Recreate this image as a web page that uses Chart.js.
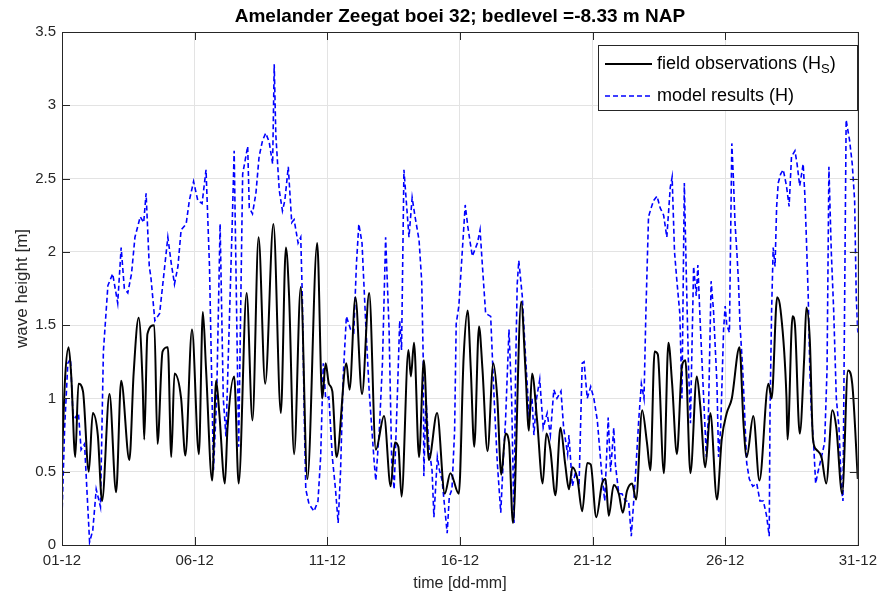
<!DOCTYPE html>
<html>
<head>
<meta charset="utf-8">
<script src="https://cdn.jsdelivr.net/npm/chart.js@4.4.1/dist/chart.umd.min.js"></script>
<style>
  html, body { margin: 0; padding: 0; background: #fff; }
  canvas { display: block; }
</style>
</head>
<body>
<canvas id="waves" width="884" height="595"></canvas>
<script>
// time in days since 01-12, wave height in m
const obsDays = [
  0.0, 0.12, 0.25, 0.35, 0.5, 0.62, 0.79, 1.01, 1.16, 1.35, 1.51, 1.79, 2.04, 2.23, 2.54, 2.7, 2.89, 3.04, 3.1, 3.22,
  3.48, 3.6, 3.79, 3.99, 4.12, 4.24, 4.49, 4.65, 4.9, 5.16, 5.31, 5.43, 5.66, 5.81, 5.93, 6.14, 6.24, 6.49, 6.66, 6.96,
  7.18, 7.41, 7.66, 7.97, 8.25, 8.44, 8.56, 8.75, 9.0, 9.25, 9.62, 9.81, 9.94, 10.06, 10.19, 10.35, 10.72, 10.84, 11.06, 11.31,
  11.58, 11.83, 12.14, 12.39, 12.55, 12.68, 12.8, 13.06, 13.15, 13.27, 13.46, 13.64, 13.83, 14.14, 14.43, 14.64, 14.96, 15.14, 15.29, 15.41,
  15.54, 15.72, 15.85, 16.04, 16.26, 16.41, 16.56, 16.72, 16.85, 17.0, 17.31, 17.47, 17.6, 17.72, 17.91, 18.12, 18.26, 18.41, 18.6, 18.79,
  18.97, 19.11, 19.24, 19.43, 19.61, 19.8, 19.93, 20.14, 20.36, 20.49, 20.61, 20.8, 20.99, 21.14, 21.3, 21.49, 21.64, 21.87, 22.05, 22.18,
  22.34, 22.46, 22.69, 22.86, 23.0, 23.18, 23.37, 23.5, 23.69, 23.93, 24.06, 24.25, 24.44, 24.69, 24.87, 25.06, 25.25, 25.54, 25.69, 25.81,
  26.06, 26.29, 26.63, 26.75, 26.96, 27.09, 27.31, 27.35, 27.54, 27.63, 27.81, 27.98, 28.06, 28.19, 28.31, 28.44, 28.63, 28.81, 29.04, 29.19,
  29.41, 29.63, 29.79, 30.0
];
const obsHeight = [
  0.6, 1.15, 1.35, 1.15, 0.6, 1.1, 1.05, 0.5, 0.9, 0.75, 0.3, 1.03, 0.36, 1.12, 0.58, 1.17, 1.55, 1.1, 0.72, 1.44,
  1.5, 0.69, 1.32, 1.35, 0.6, 1.17, 1.0, 0.61, 1.47, 0.62, 1.59, 1.2, 0.44, 1.12, 0.9, 0.42, 0.8, 1.15, 0.42, 1.72,
  0.85, 2.1, 1.1, 2.19, 0.9, 2.03, 1.7, 0.62, 1.76, 0.45, 2.06, 1.0, 1.24, 1.1, 1.05, 0.6, 1.24, 1.06, 1.69, 1.03,
  1.72, 0.65, 0.88, 0.4, 0.7, 0.67, 0.33, 1.33, 1.15, 1.38, 0.6, 1.26, 0.58, 0.9, 0.35, 0.49, 0.35, 1.28, 1.6, 1.2,
  0.67, 1.49, 1.2, 0.64, 1.24, 1.0, 0.48, 0.76, 0.7, 0.15, 1.66, 1.2, 0.78, 1.17, 0.85, 0.42, 0.76, 0.65, 0.34, 0.8,
  0.55, 0.38, 0.53, 0.45, 0.23, 0.56, 0.55, 0.19, 0.42, 0.45, 0.2, 0.41, 0.35, 0.22, 0.37, 0.42, 0.31, 0.92, 0.7, 0.51,
  1.32, 1.3, 0.49, 1.38, 1.1, 0.62, 1.22, 1.26, 0.49, 1.15, 0.95, 0.53, 0.9, 0.31, 0.72, 0.9, 1.0, 1.35, 0.83, 0.6,
  0.88, 0.44, 1.1, 1.0, 1.69, 1.6, 1.01, 0.72, 1.56, 1.5, 0.76, 1.28, 1.62, 1.4, 0.72, 0.65, 0.6, 0.42, 0.92, 0.8,
  0.35, 1.19, 1.1, 0.45
];

const modelDays = [
  0.0, 0.1, 0.22, 0.32, 0.41, 0.5, 0.62, 0.72, 0.85, 1.04, 1.16, 1.29, 1.45, 1.56, 1.73, 1.91, 2.1, 2.23, 2.35, 2.48,
  2.62, 2.75, 2.95, 3.08, 3.17, 3.29, 3.35, 3.5, 3.68, 3.8, 3.99, 4.12, 4.24, 4.37, 4.49, 4.68, 4.8, 4.96, 5.12, 5.28,
  5.43, 5.56, 5.71, 5.83, 5.96, 6.08, 6.18, 6.41, 6.49, 6.66, 6.81, 7.0, 7.06, 7.18, 7.31, 7.43, 7.56, 7.68, 7.81, 7.94,
  8.0, 8.06, 8.19, 8.31, 8.4, 8.53, 8.66, 8.75, 8.9, 9.0, 9.06, 9.13, 9.19, 9.31, 9.5, 9.65, 9.75, 9.85, 9.94, 10.06,
  10.19, 10.31, 10.41, 10.5, 10.6, 10.72, 10.88, 11.0, 11.1, 11.19, 11.31, 11.46, 11.58, 11.77, 11.83, 11.96, 12.08, 12.2, 12.33, 12.43,
  12.52, 12.64, 12.73, 12.8, 12.89, 13.08, 13.2, 13.3, 13.46, 13.56, 13.62, 13.64, 13.72, 13.83, 13.95, 14.02, 14.15, 14.23, 14.33, 14.52,
  14.6, 14.7, 14.8, 14.86, 14.96, 15.06, 15.2, 15.3, 15.39, 15.47, 15.66, 15.76, 15.85, 15.97, 16.16, 16.29, 16.41, 16.54, 16.64, 16.72,
  16.85, 16.95, 17.04, 17.1, 17.16, 17.22, 17.35, 17.47, 17.6, 17.72, 17.79, 17.89, 18.01, 18.14, 18.29, 18.41, 18.54, 18.66, 18.81, 18.91,
  19.06, 19.11, 19.24, 19.36, 19.49, 19.61, 19.68, 19.8, 19.93, 20.05, 20.18, 20.34, 20.46, 20.59, 20.68, 20.8, 20.86, 20.99, 21.11, 21.24,
  21.36, 21.46, 21.61, 21.74, 21.84, 21.94, 22.01, 22.11, 22.21, 22.3, 22.43, 22.55, 22.68, 22.8, 22.93, 23.0, 23.09, 23.18, 23.29, 23.37,
  23.46, 23.54, 23.62, 23.69, 23.81, 23.91, 23.97, 24.06, 24.19, 24.29, 24.37, 24.47, 24.56, 24.69, 24.75, 24.83, 24.94, 25.0, 25.06, 25.16,
  25.25, 25.31, 25.37, 25.44, 25.5, 25.56, 25.66, 25.71, 25.81, 25.91, 26.04, 26.19, 26.31, 26.44, 26.56, 26.66, 26.69, 26.75, 26.81, 26.88,
  26.94, 27.0, 27.09, 27.19, 27.31, 27.41, 27.5, 27.63, 27.71, 27.81, 27.94, 28.0, 28.06, 28.13, 28.19, 28.25, 28.34, 28.41, 28.5, 28.63,
  28.75, 28.84, 28.91, 29.0, 29.09, 29.19, 29.29, 29.38, 29.44, 29.56, 29.69, 29.79, 29.88, 29.94, 30.0
];
const modelHeight = [
  0.2, 0.8, 1.24, 1.27, 0.9, 0.87, 0.9, 0.65, 0.69, 0.02, 0.1, 0.38, 0.26, 1.32, 1.77, 1.85, 1.65, 2.03, 1.75, 1.72,
  1.85, 2.1, 2.24, 2.2, 2.4, 1.9, 1.83, 1.53, 1.58, 1.78, 2.1, 1.92, 1.78, 1.9, 2.15, 2.19, 2.35, 2.48, 2.35, 2.33,
  2.56, 1.9, 0.51, 1.0, 2.19, 1.0, 0.74, 2.15, 2.69, 0.67, 2.53, 2.72, 2.3, 2.26, 2.4, 2.65, 2.76, 2.81, 2.75, 2.6,
  3.28, 2.8, 2.42, 2.28, 2.35, 2.58, 2.2, 2.22, 2.06, 2.1, 1.69, 0.9, 0.38, 0.28, 0.23, 0.3, 0.6, 1.24, 1.0, 1.01,
  0.6, 0.38, 0.15, 0.5, 1.15, 1.56, 1.47, 1.45, 1.92, 2.19, 2.06, 1.47, 1.05, 0.56, 0.44, 0.78, 1.24, 2.1, 1.47, 0.56,
  0.38, 1.01, 1.53, 1.33, 2.56, 2.1, 2.37, 2.25, 2.08, 1.8, 1.24, 0.47, 1.0, 0.67, 0.51, 0.19, 0.6, 0.51, 0.44, 0.08,
  0.33, 0.38, 0.78, 1.51, 1.63, 1.92, 2.32, 2.17, 2.06, 1.97, 2.06, 2.15, 1.9, 1.58, 1.56, 1.0, 0.56, 0.22, 0.6, 0.85,
  1.47, 1.0, 0.15, 1.2, 1.78, 1.94, 1.7, 1.3, 0.9, 1.0, 0.75, 1.0, 1.13, 0.8, 0.9, 0.75, 1.06, 1.0, 1.05, 0.8,
  0.62, 0.75, 0.4, 0.5, 0.4, 1.24, 1.25, 1.0, 1.08, 1.0, 0.85, 0.5, 0.3, 0.87, 0.5, 0.8, 0.55, 0.35, 0.35, 0.3,
  0.3, 0.06, 0.45, 0.85, 1.1, 1.0, 1.58, 2.24, 2.3, 2.35, 2.38, 2.3, 2.25, 2.1, 2.44, 2.51, 2.0, 1.8, 1.58, 1.0,
  2.47, 1.8, 1.2, 0.83, 1.9, 1.7, 1.91, 1.51, 1.0, 0.6, 0.9, 1.8, 1.6, 1.1, 0.6, 0.8, 1.47, 1.63, 1.5, 1.45,
  2.74, 2.5, 2.2, 2.0, 1.8, 1.5, 1.2, 1.0, 0.56, 0.45, 0.4, 0.42, 0.3, 0.3, 0.2, 0.06, 0.9, 1.6, 2.03, 1.9,
  2.31, 2.47, 2.53, 2.56, 2.45, 2.31, 2.65, 2.69, 2.6, 2.45, 2.6, 2.4, 2.1, 1.7, 1.2, 0.9, 0.67, 0.42, 0.5, 0.6,
  0.7, 1.2, 2.58, 2.0, 1.6, 1.0, 0.8, 0.4, 0.3, 2.9, 2.76, 2.6, 2.35, 1.7, 1.45
];

const dayLabels = ["01-12", "06-12", "11-12", "16-12", "21-12", "26-12", "31-12"];
const seriesNames = ["field observations (H", "model results (H)"];
const chartTitle = "Amelander Zeegat boei 32; bedlevel =-8.33 m NAP";

const FONT = "'Liberation Sans', Arial, Helvetica, sans-serif";
const AXIS_COLOR = "#262626";

const toPoints = (xs, ys) => xs.map((x, i) => ({ x: x, y: ys[i] }));

// MATLAB-style box, inward ticks, title and legend
const matlabFrame = {
  id: "matlabFrame",
  afterDraw(chart) {
    const { ctx, chartArea: a, scales } = chart;
    const tickLen = 8;
    ctx.save();
    ctx.strokeStyle = AXIS_COLOR;
    ctx.lineWidth = 1;
    ctx.beginPath();
    scales.x.ticks.forEach((t) => {
      const px = Math.round(scales.x.getPixelForValue(t.value)) + 0.5;
      ctx.moveTo(px, a.bottom);
      ctx.lineTo(px, a.bottom - tickLen);
      ctx.moveTo(px, a.top);
      ctx.lineTo(px, a.top + tickLen);
    });
    scales.y.ticks.forEach((t) => {
      const py = Math.round(scales.y.getPixelForValue(t.value)) + 0.5;
      ctx.moveTo(a.left, py);
      ctx.lineTo(a.left + tickLen, py);
      ctx.moveTo(a.right, py);
      ctx.lineTo(a.right - tickLen, py);
    });
    ctx.stroke();
    ctx.strokeRect(Math.round(a.left) + 0.5, Math.round(a.top) + 0.5,
      Math.round(a.right - a.left), Math.round(a.bottom - a.top));

    // title
    ctx.fillStyle = "#000";
    ctx.font = "bold 19px " + FONT;
    ctx.textAlign = "center";
    ctx.textBaseline = "alphabetic";
    ctx.fillText(chartTitle, (a.left + a.right) / 2, 22);

    // legend
    const bx = 598, by = 45, bw = 259, bh = 65;
    ctx.fillStyle = "#fff";
    ctx.fillRect(bx, by, bw, bh);
    ctx.strokeStyle = AXIS_COLOR;
    ctx.strokeRect(bx + 0.5, by + 0.5, bw, bh);

    const rows = [by + 19, by + 51];
    const ds = chart.data.datasets;
    rows.forEach((ry, i) => {
      ctx.beginPath();
      ctx.strokeStyle = ds[i].borderColor;
      ctx.lineWidth = ds[i].borderWidth;
      ctx.setLineDash(ds[i].borderDash || []);
      ctx.moveTo(bx + 7, ry);
      ctx.lineTo(bx + 54, ry);
      ctx.stroke();
    });
    ctx.setLineDash([]);

    ctx.fillStyle = "#000";
    ctx.textAlign = "left";
    ctx.textBaseline = "middle";
    ctx.font = "18px " + FONT;
    const tx = bx + 59;
    ctx.fillText(seriesNames[0], tx, rows[0]);
    let w = ctx.measureText(seriesNames[0]).width;
    ctx.font = "13px " + FONT;
    ctx.fillText("S", tx + w, rows[0] + 5);
    w += ctx.measureText("S").width;
    ctx.font = "18px " + FONT;
    ctx.fillText(")", tx + w, rows[0]);
    ctx.fillText(seriesNames[1], tx, rows[1]);
    ctx.restore();
  },
};

new Chart(document.getElementById("waves"), {
  type: "line",
  data: {
    datasets: [
      {
        label: "field observations (HS)",
        data: toPoints(obsDays, obsHeight),
        borderColor: "#000000",
        borderWidth: 2,
        pointRadius: 0,
        cubicInterpolationMode: "monotone",
        order: 0,
      },
      {
        label: "model results (H)",
        data: toPoints(modelDays, modelHeight),
        borderColor: "#0000ff",
        borderWidth: 1.6,
        borderDash: [5, 3],
        pointRadius: 0,
        tension: 0,
        order: 1,
      },
    ],
  },
  options: {
    responsive: false,
    animation: false,
    layout: { padding: { top: 32, right: 22, left: 0, bottom: 0 } },
    plugins: {
      legend: { display: false },
      tooltip: { enabled: false },
    },
    scales: {
      x: {
        type: "linear",
        min: 0,
        max: 30,
        afterFit: (s) => { s.height = 50; },
        border: { display: false },
        grid: { color: "#e3e3e3", drawTicks: false },
        ticks: {
          stepSize: 5,
          autoSkip: false,
          maxRotation: 0,
          padding: 7,
          color: AXIS_COLOR,
          font: { family: FONT, size: 15 },
          callback: (v) => dayLabels[v / 5],
        },
        title: {
          display: true,
          text: "time [dd-mm]",
          color: AXIS_COLOR,
          font: { family: FONT, size: 16 },
          padding: { top: 0, bottom: 2 },
        },
      },
      y: {
        min: 0,
        max: 3.5,
        afterFit: (s) => { s.width = 62; },
        border: { display: false },
        grid: { color: "#e3e3e3", drawTicks: false },
        ticks: {
          stepSize: 0.5,
          padding: 6,
          color: AXIS_COLOR,
          font: { family: FONT, size: 15 },
          callback: (v) => String(Number(v.toFixed(1))),
        },
        title: {
          display: true,
          text: "wave height [m]",
          color: AXIS_COLOR,
          font: { family: FONT, size: 17 },
          padding: { top: 12, bottom: 0 },
        },
      },
    },
  },
  plugins: [matlabFrame],
});
</script>
</body>
</html>
